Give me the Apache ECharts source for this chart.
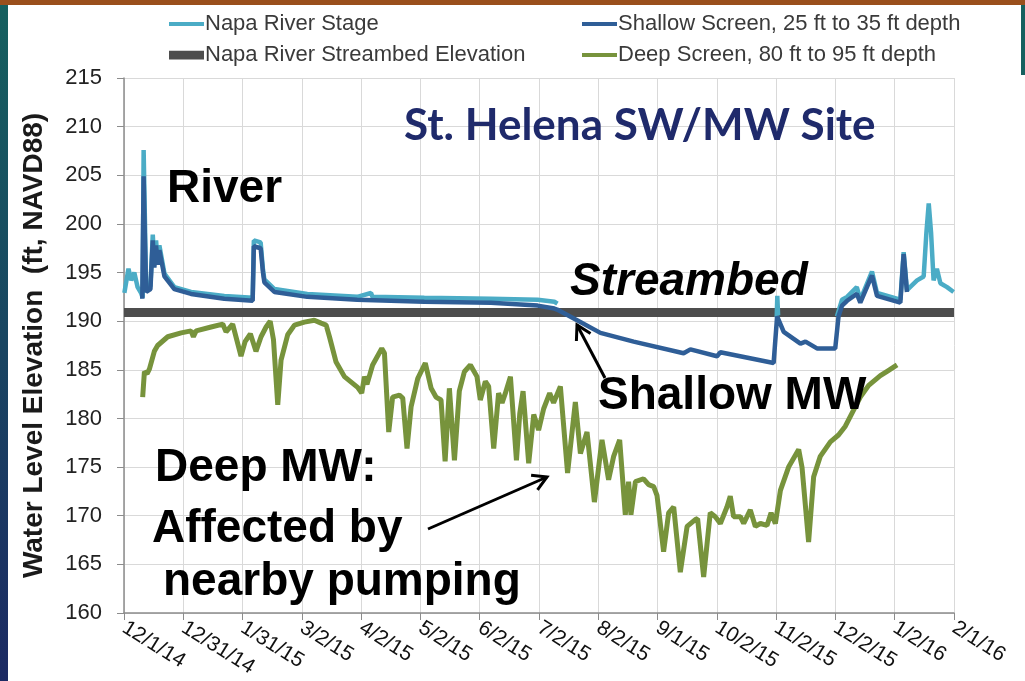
<!DOCTYPE html>
<html><head><meta charset="utf-8">
<script src="https://cdn.jsdelivr.net/npm/echarts@6/dist/echarts.min.js"></script>
<style>html,body{margin:0;padding:0;background:#fff;overflow:hidden}#c{width:1025px;height:681px}</style>
</head><body><div id="c"></div>
<script>
// x values are days since 12/1/14; ticks every 30.5 days
const tickLabels = ['12/1/14','12/31/14','1/31/15','3/2/15','4/2/15','5/2/15','6/2/15','7/2/15','8/2/15','9/1/15','10/2/15','11/2/15','12/2/15','1/2/16','2/1/16'];

const streambedData = [[0,190.9],[427,190.9]];

const stageData = [[0.2,192.9],[2.3,195.4],[3.7,194.2],[5.3,195.0],[7.0,193.5],[8.8,192.9],[9.6,192.4],[10.1,207.6],[10.8,200],[11.4,193.2],[13.6,193.6],[14.8,198.9],[15.6,196],[16.5,198.3],[17.3,196],[18.2,197.8],[20.8,194.9],[25.9,193.5],[34.5,193.0],[51.6,192.6],[66.2,192.4],[66.8,198.3],[70.3,198.1],[71.5,195.3],[72.2,194.3],[77.4,193.3],[94.3,192.8],[120,192.5],[127.1,192.9],[127.8,192.5],[154.5,192.4],[188.8,192.3],[212.8,192.2],[221.4,192.0],[223,191.8],[223.5,'-'],[335.8,190.4],[336.1,192.6],[336.5,190.6],[337,'-'],[366.8,190.5],[369.4,192.2],[372,192.5],[377,193.5],[378.8,192.2],[384.8,195.1],[387.4,192.9],[399.4,192.2],[401.1,197.1],[402.8,193.2],[408,194.2],[411.4,194.6],[412.8,199.1],[414,202.1],[415.2,199.1],[416.5,194.2],[418.2,195.4],[420,193.9],[423.4,193.5],[426.8,193.0]];

const shallowData = [[9.4,192.3],[10.1,204.9],[10.8,198],[11.4,193.0],[13.6,193.3],[14.8,198.3],[15.6,195.5],[16.5,197.8],[17.3,195.8],[18.2,197.3],[20.8,194.6],[25.9,193.3],[34.5,192.8],[51.6,192.3],[66.2,192.1],[66.8,197.7],[70.3,197.5],[71.5,195],[72.2,194.0],[77.4,193.0],[94.3,192.5],[120,192.2],[154.5,192.0],[188.8,191.9],[212.8,191.6],[221.4,191.3],[222.8,191.2],[233.1,190.1],[245.1,188.8],[262.2,187.9],[287.9,186.7],[291.4,187.1],[305.1,186.4],[306.8,186.8],[334.2,185.7],[336,190.5],[339.4,188.9],[348,187.7],[350.6,187.9],[356.5,187.2],[365.9,187.2],[367.6,190.5],[369.4,191.6],[372,192.1],[377,192.8],[378.8,191.9],[384.8,194.7],[387.4,192.6],[399.4,191.9],[401.1,196.9],[402.8,193.0]];

const deepData = [[9.6,182.2],[10.5,184.8],[11.9,184.6],[13.1,185.1],[15.6,186.9],[17.3,187.5],[22.5,188.4],[29.4,188.8],[34.5,189.0],[35.7,188.4],[37.1,189.0],[44.8,189.4],[50.8,189.7],[52.5,188.9],[55.9,189.7],[60.2,186.4],[62.3,187.9],[65,188.7],[67.9,186.9],[70.5,188.4],[73.1,189.4],[75.2,190.0],[76.9,188.1],[79.1,181.4],[80.8,186.0],[84.2,188.6],[87.7,189.6],[92.8,189.9],[97.9,190.1],[101.4,189.8],[104,189.6],[105.7,188.4],[109.1,185.8],[113.4,184.3],[120.2,183.2],[122.3,182.6],[123.7,184.3],[125,183.5],[127.9,185.5],[132.6,187.2],[134,186.7],[136.2,178.6],[138.2,182.2],[141.7,182.4],[143.4,182.1],[145.6,176.9],[147.7,181.2],[151.1,184.1],[155,185.7],[158,183.1],[160.5,182.2],[163.1,181.9],[165.2,175.6],[167.4,183.1],[170,175.7],[172.5,182.8],[175.1,184.8],[178.2,185.5],[181.6,184.3],[183.3,181.9],[185.9,183.8],[187.6,183.3],[190.2,176.9],[192.7,182.6],[194.5,181.6],[196.2,182.6],[198.8,184.3],[201.9,175.7],[203.6,180.5],[205.3,182.8],[208.2,175.4],[210.8,180.4],[213.3,178.8],[215.9,181.0],[219,182.6],[221,181.6],[224.5,183.3],[228.2,174.4],[232.2,181.7],[234.8,176.4],[238.2,178.6],[242,171.4],[245.9,177.8],[249.3,173.7],[251.9,176.1],[255,177.8],[257.9,170.1],[259.6,173.5],[260.8,170.1],[263.1,173.5],[267.3,173.8],[269.9,173.2],[272.5,173.0],[274.2,172.1],[277.6,166.3],[280.2,170.3],[282.8,170.9],[286.2,164.2],[289.7,168.9],[293.9,169.6],[295.1,169.7],[298.2,163.7],[301.6,170.3],[304.2,169.9],[306.8,169.2],[310.2,170.9],[311.9,172.0],[313.6,169.9],[317.1,169.9],[318.8,169.2],[322.2,170.6],[324.8,168.9],[327.4,169.2],[330.8,169.0],[332.9,170.3],[335.1,169.2],[337.7,172.6],[341.9,175.0],[347.1,176.8],[348.8,175.0],[352.2,167.3],[354.8,174.0],[358.2,176.1],[363.4,177.6],[367.6,178.3],[371.1,179.2],[376.2,181.2],[378.8,182.2],[383.1,183.4],[389.1,184.4],[393,184.9],[397.7,185.5]];

const chart = echarts.init(document.getElementById('c'), null, {renderer:'canvas'});

function arrow(x1,y1,x2,y2,len){
  const a=Math.atan2(y2-y1,x2-x1), w=Math.PI/6;
  const p1=[x2-len*Math.cos(a-w), y2-len*Math.sin(a-w)];
  const p2=[x2-len*Math.cos(a+w), y2-len*Math.sin(a+w)];
  return [{type:'line',z:100,shape:{x1:x1,y1:y1,x2:x2,y2:y2},style:{stroke:'#000',lineWidth:3}},
          {type:'polyline',z:100,shape:{points:[p1,[x2,y2],p2]},style:{stroke:'#000',lineWidth:3,fill:null}}];
}
function label(text,x,y,font,color){
  return {type:'text',z:100,x:x,y:y,style:{text:text,font:font,fill:color||'#000',textVerticalAlign:'middle',verticalAlign:'middle'}};
}
const annFont = 'bold 46px "Liberation Sans", Arial, sans-serif';
const thin = 'path://M0,0L36,0L36,4L0,4Z';
const thick = 'path://M0,0L36,0L36,9L0,9Z';
const legendText = {fontSize:22, color:'#3a3a3a', fontFamily:'"Liberation Sans", Arial, sans-serif', lineHeight:24, padding:[0,0,0,-4]};

chart.setOption({
  animation:false,
  backgroundColor:'#fff',
  grid:{left:124,right:71,top:78,bottom:68,containLabel:false,outerBoundsMode:'none'},
  legend:[
    {left:164,top:7,orient:'vertical',itemGap:7,itemWidth:35,itemHeight:12,textStyle:legendText,
     data:[{name:'Napa River Stage',icon:thin},{name:'Napa River Streambed Elevation',icon:thick}]},
    {left:577,top:7,orient:'vertical',itemGap:7,itemWidth:35,itemHeight:12,textStyle:legendText,
     data:[{name:'Shallow Screen, 25 ft to 35 ft depth',icon:thin},{name:'Deep Screen, 80 ft to 95 ft depth',icon:thin}]}
  ],
  xAxis:{type:'value',min:0,max:427,interval:30.5,
    axisLine:{lineStyle:{color:'#8c8c8c',width:1.5}},
    axisTick:{show:true,inside:false,length:7,lineStyle:{color:'#8c8c8c'}},
    splitLine:{show:true,lineStyle:{color:'#d9d9d9',width:1}},
    axisLabel:{rotate:-32,margin:13,fontSize:21,color:'#111',fontFamily:'"Liberation Sans", Arial, sans-serif',
      interval:0,hideOverlap:false,showMinLabel:true,showMaxLabel:true,
      formatter:function(v){return tickLabels[Math.round(v/30.5)]||'';}}
  },
  yAxis:{type:'value',min:160,max:215,interval:5,
    name:'Water Level Elevation  (ft, NAVD88)',nameLocation:'middle',nameRotate:90,nameGap:76,
    nameTextStyle:{fontSize:28,fontWeight:'bold',color:'#1a1a1a',fontFamily:'"Liberation Sans", Arial, sans-serif'},
    axisLine:{show:true,lineStyle:{color:'#8c8c8c',width:1.5}},
    axisTick:{show:true,inside:false,length:7,lineStyle:{color:'#8c8c8c'}},
    splitLine:{show:true,lineStyle:{color:'#d9d9d9',width:1}},
    axisLabel:{margin:22,fontSize:22,color:'#222',fontFamily:'"Liberation Sans", Arial, sans-serif'}
  },
  series:[
    {name:'Napa River Streambed Elevation',type:'line',data:streambedData,showSymbol:false,z:2,
     lineStyle:{color:'#4d4d4d',width:9},itemStyle:{color:'#4d4d4d'}},
    {name:'Napa River Stage',type:'line',data:stageData,showSymbol:false,connectNulls:false,z:3,
     lineStyle:{color:'#4bacc6',width:4.5},itemStyle:{color:'#4bacc6'}},
    {name:'Shallow Screen, 25 ft to 35 ft depth',type:'line',data:shallowData,showSymbol:false,z:4,
     lineStyle:{color:'#2f5e97',width:4.5},itemStyle:{color:'#2f5e97'}},
    {name:'Deep Screen, 80 ft to 95 ft depth',type:'line',data:deepData,showSymbol:false,z:5,
     lineStyle:{color:'#77933c',width:5},itemStyle:{color:'#77933c'}}
  ],
  graphic:[
    {type:'rect',z:200,shape:{x:0,y:0,width:1025,height:5},style:{fill:'#9a4f1c'}},
    {type:'rect',z:200,shape:{x:0,y:5,width:8,height:676},style:{fill:new echarts.graphic.LinearGradient(0,0,0,1,[{offset:0,color:'#16605f'},{offset:1,color:'#1c2a63'}])}},
    {type:'rect',z:200,shape:{x:1021,y:5,width:4,height:70},style:{fill:'#16605f'}},
    label('St. Helena SW/MW Site',404,126,'bold 44px Lato, "Open Sans", sans-serif','#1f2a6b'),
    label('River',167,189,annFont),
    label('Streambed',570,282,'italic '+annFont),
    label('Shallow MW',598,396,annFont),
    label('Deep MW:',155,468,annFont),
    label('Affected by',152,529,annFont),
    label('nearby pumping',163,582,annFont)
  ].concat(arrow(605,378,577,325,16)).concat(arrow(428,529,547,477,16))
});
</script></body></html>
